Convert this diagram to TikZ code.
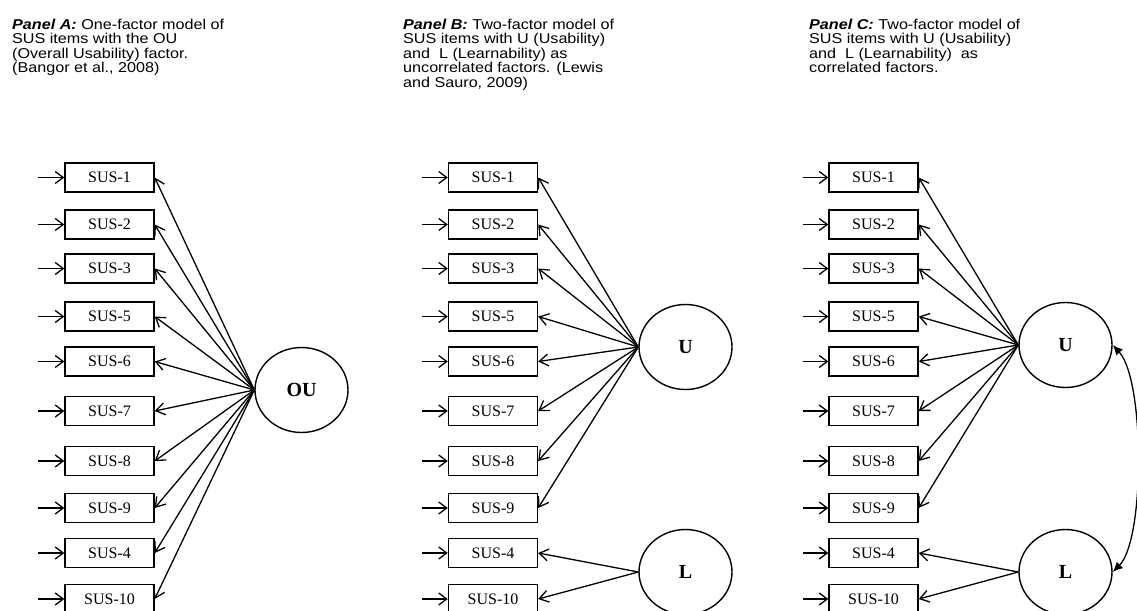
\documentclass[tikz,border=0pt]{standalone}
\usepackage{fontspec}
\setmainfont{Liberation Serif}
\newfontfamily\arialf[FakeStretch=1.13]{Liberation Sans}
\usetikzlibrary{arrows.meta,shapes.geometric}
\begin{document}
\begin{tikzpicture}[x=1pt,y=-1pt,
  item/.style={draw, line width=1.4pt, minimum width=89pt, minimum height=29pt, inner sep=0pt, font=\fontsize{16}{16}\selectfont},
  factor/.style={draw, ellipse, line width=1.4pt, minimum width=93pt, minimum height=85pt, inner sep=0pt, font=\fontsize{20}{20}\selectfont\bfseries},
  load/.style={-{Straight Barb[length=9pt,width=12pt]}, line width=1.3pt},
  err/.style={-{Straight Barb[length=8pt,width=12pt]}, line width=1.3pt},
  corr/.style={{Latex[length=10pt,width=9pt]}-{Latex[length=10pt,width=9pt]}, line width=1.3pt},
  paneltext/.style={anchor=north west, align=left, inner sep=0pt, font=\arialf\fontsize{14.3}{14.4}\selectfont}
]
\useasboundingbox (0,0) rectangle (1137,610);
\clip (0,0) rectangle (1137,610);

\node[paneltext] (ta) at (12,19) {\textbf{\textit{Panel A:}} One-factor model of\\SUS items with the OU\\(Overall Usability) factor.\\(Bangor et al., 2008)};
\node[paneltext] (tb) at (403,19) {\textbf{\textit{Panel B:}} Two-factor model of\\SUS items with U (Usability)\\and~ L (Learnability) as\\uncorrelated factors. (Lewis\\and Sauro, 2009)};
\node[paneltext] (tc) at (809,19) {\textbf{\textit{Panel C:}} Two-factor model of\\SUS items with U (Usability)\\and~ L (Learnability)~ as\\correlated factors.};

\node[factor] (OU) at (301.5,390) {OU};
\node[factor] (UB) at (685.5,347) {U};
\node[factor] (LB) at (685.5,572) {L};
\node[factor] (UC) at (1065.5,345) {U};
\node[factor] (LC) at (1065.5,572) {L};

\foreach \lab/\y [count=\i] in {SUS-1/177.5, SUS-2/224.5, SUS-3/268.5, SUS-5/316.5, SUS-6/361.5, SUS-7/411, SUS-8/461, SUS-9/508, SUS-4/553, SUS-10/599} {
  \node[item] (a\i) at (109.5,\y) {\lab};
  \node[item] (b\i) at (493,\y) {\lab};
  \node[item] (c\i) at (873.5,\y) {\lab};
  \coordinate (ea\i) at (38,\y);
  \coordinate (eb\i) at (422,\y);
  \coordinate (ec\i) at (803,\y);
  \draw[err] (ea\i) -- (a\i);
  \draw[err] (eb\i) -- (b\i);
  \draw[err] (ec\i) -- (c\i);
  \draw[load] (OU.west) -- (a\i.east);
}
\foreach \i in {1,...,8} {
  \draw[load] (UB.west) -- (b\i.east);
  \draw[load] (UC.west) -- (c\i.east);
}
\foreach \i in {9,10} {
  \draw[load] (LB.west) -- (b\i.east);
  \draw[load] (LC.west) -- (c\i.east);
}
\draw[corr] (UC.east) .. controls (1145,380) and (1145,540) .. (LC.east);
\end{tikzpicture}
\end{document}
